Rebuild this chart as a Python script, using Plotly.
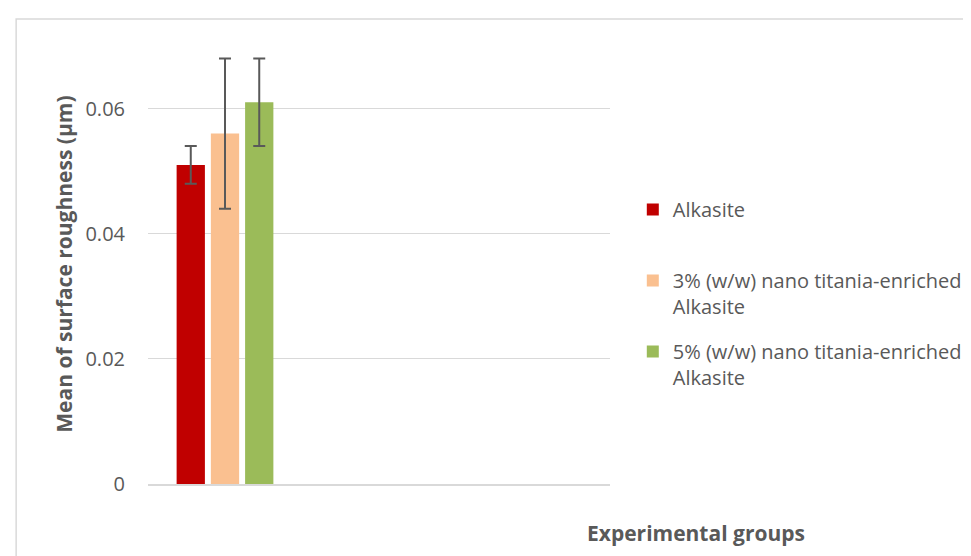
import plotly.graph_objects as go

# ---- data ----
categories = ["Surface roughness"]
series_names = [
    "Alkasite",
    "3% (w/w) nano titania-enriched<br>Alkasite",
    "5% (w/w) nano titania-enriched<br>Alkasite",
]
series_values = [0.051, 0.056, 0.061]
series_errors = [0.003, 0.012, 0.007]
series_colors = ["#C00000", "#FAC090", "#9BBB59"]
y_ticks = [0, 0.02, 0.04, 0.06]
y_tick_labels = ["0", "0.02", "0.04", "0.06"]

W, H = 971, 556
L, R, T, B = 140, 365, 38, 80
pw = W - L - R
ph = H - T - B

FONT = "Open Sans"
GREY = "#595959"

fig = go.Figure()
for i, (name, val, err, col) in enumerate(zip(series_names, series_values, series_errors, series_colors)):
    label = name if "<br>" in name else name + "<br> "
    fig.add_trace(go.Bar(
        x=categories, y=[val], name=label,
        marker=dict(color=col, line=dict(width=0)),
        error_y=dict(type="data", array=[err], visible=True, color=GREY, thickness=2, width=6),
        legendgroup=f"g{i}",
    ))

def px_x(p):
    return (p - L) / pw

def px_y(p):
    return (H - B - p) / ph

fig.update_layout(
    width=W, height=H,
    margin=dict(l=L, r=R, t=T, b=B, pad=0),
    paper_bgcolor="white", plot_bgcolor="white",
    barmode="group", bargap=0.333, bargroupgap=0.174,
    font=dict(family=FONT, color=GREY, size=20),
    showlegend=True,
    legend=dict(
        x=px_x(629), y=px_y(182), xanchor="left", yanchor="top",
        font=dict(family=FONT, size=20, color=GREY),
        valign="top", traceorder="grouped", tracegroupgap=16,
        bgcolor="rgba(0,0,0,0)", borderwidth=0,
    ),
    xaxis=dict(
        type="category", range=[-0.5, 2.5], showticklabels=False, ticks="",
        showgrid=False, showline=True, linecolor="#D9D9D9", linewidth=2,
        zeroline=False,
    ),
    yaxis=dict(
        range=[0, 0.07], tickvals=y_ticks, ticktext=y_tick_labels,
        showgrid=True, gridcolor="#D9D9D9", gridwidth=1.3,
        zeroline=False, showline=False, ticks="",
        ticklabelstandoff=22,
        tickfont=dict(family=FONT, size=20, color=GREY),
    ),
    annotations=[
        dict(text="<b>Mean of surface roughness (µm)</b>", xref="paper", yref="paper",
             x=px_x(55), y=px_y(256), textangle=-90, showarrow=False,
             xanchor="center", yanchor="middle",
             font=dict(family=FONT, size=21, color=GREY)),
        dict(text="<b>Experimental groups</b>", xref="paper", yref="paper",
             x=px_x(693), y=px_y(525), showarrow=False,
             xanchor="center", yanchor="middle",
             font=dict(family=FONT, size=21, color=GREY)),
    ],
    shapes=[
        dict(type="rect", xref="paper", yref="paper",
             x0=px_x(7), x1=px_x(W + 20), y0=px_y(11), y1=px_y(H + 20),
             line=dict(color="#D9D9D9", width=1.5), fillcolor="rgba(0,0,0,0)", layer="below"),
    ],
)

fig.write_html("out.html")
